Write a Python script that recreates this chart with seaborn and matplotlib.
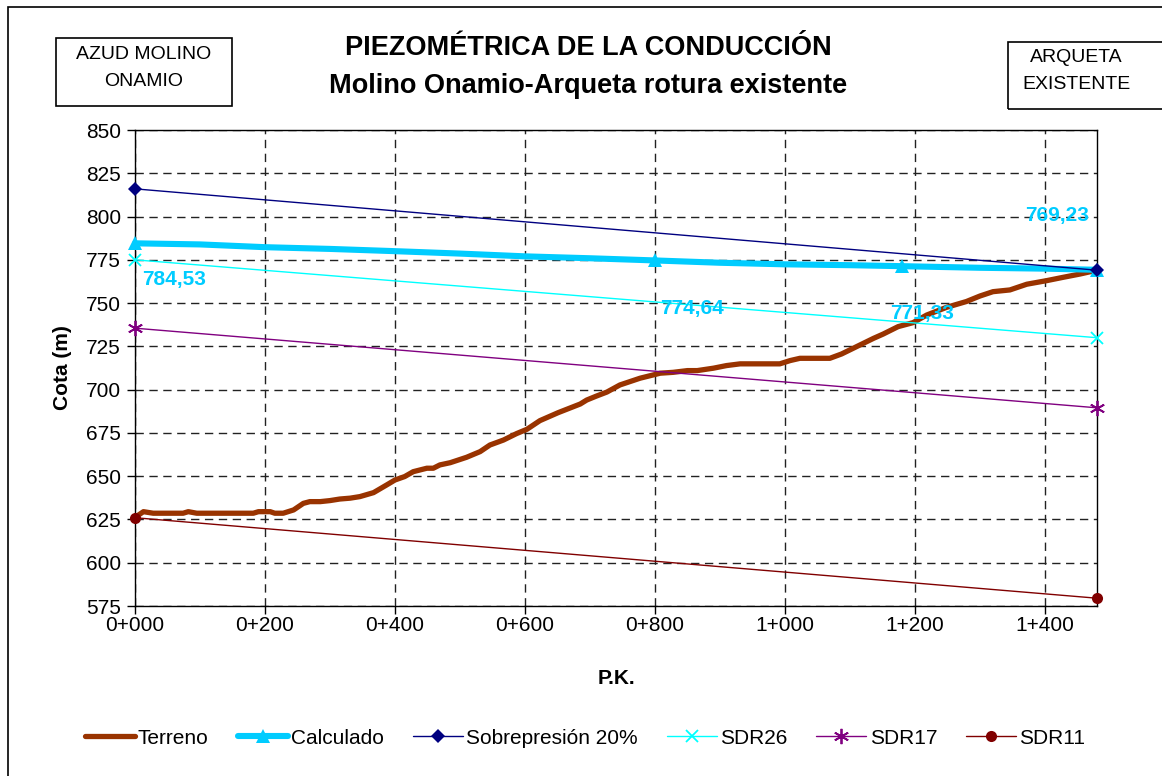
import numpy as np
import pandas as pd
import matplotlib
matplotlib.use("Agg")
import matplotlib.pyplot as plt
from matplotlib.patches import Rectangle
from matplotlib.ticker import FuncFormatter, MultipleLocator
import seaborn as sns

# ---------------- data ----------------
terreno_pk = [0, 13, 28, 74, 82, 95, 182, 190, 208, 215,
              228, 244, 259, 269, 285, 300, 315, 331, 346, 367,
              387, 400, 415, 428, 449, 459, 469, 485, 510, 531,
              546, 567, 587, 603, 623, 651, 685, 695, 710, 726,
              746, 777, 808, 828, 850, 865, 890, 910, 931, 992,
              1008, 1023, 1069, 1087, 1105, 1136, 1151, 1174, 1197, 1218,
              1249, 1279, 1300, 1320, 1346, 1372, 1403, 1428, 1454, 1480]
terreno_cota = [626.2, 629.5, 628.6, 628.6, 629.5, 628.6, 628.6, 629.5, 629.5, 628.6,
                628.6, 630.5, 634.3, 635.3, 635.3, 635.9, 636.8, 637.3, 638.2, 640.5,
                644.9, 647.8, 649.8, 652.6, 654.6, 654.6, 656.5, 657.8, 660.9, 664.2,
                668.0, 670.9, 674.6, 677.1, 682.1, 686.7, 691.7, 694.0, 696.3, 698.6,
                702.7, 706.6, 709.5, 710.0, 711.0, 711.0, 712.4, 713.9, 714.9, 714.9,
                716.8, 718.1, 718.1, 720.6, 723.9, 729.6, 732.1, 736.4, 738.7, 743.1,
                747.6, 750.9, 754.1, 756.6, 757.6, 760.9, 763.0, 764.9, 766.8, 769.0]

calc_pk = [0, 100, 200, 300, 400, 500, 600, 700, 800, 900, 1000, 1100, 1180, 1300, 1400, 1480]
calc_cota = [784.53, 783.9, 782.3, 781.3, 780.0, 778.6, 777.0, 775.9, 774.64, 773.3,
             772.4, 771.9, 771.33, 770.4, 769.9, 769.23]
calc_label_idx = [0, 8, 12, 15]

ends_pk = [0, 1480]
sobrepresion = [816.0, 769.0]
sdr26 = [775.0, 730.0]
sdr17 = [735.5, 689.5]
sdr11 = [626.0, 579.5]

title = "PIEZOMÉTRICA DE LA CONDUCCIÓN\nMolino Onamio-Arqueta rotura existente"
box_left = "AZUD MOLINO\nONAMIO"
box_right = "ARQUETA\nEXISTENTE"

# ---------------- style ----------------
sns.set_theme(style="white")
plt.rcParams["font.family"] = ["Liberation Sans", "DejaVu Sans"]
plt.rcParams["text.color"] = "black"
plt.rcParams["axes.labelcolor"] = "black"
plt.rcParams["xtick.color"] = "black"
plt.rcParams["ytick.color"] = "black"

W, H = 1162, 776
fig = plt.figure(figsize=(W / 100, H / 100), dpi=100)
fig.patch.set_facecolor("white")
ax = fig.add_axes([135 / W, 1 - 606 / H, (1097 - 135) / W, (606 - 130) / H])
ax.set_facecolor("white")

c_terr = "#993300"
c_calc = "#00CCFF"
c_sob = "#000080"
c_26 = "#00FFFF"
c_17 = "#800080"
c_11 = "#800000"

sns.lineplot(x=terreno_pk, y=terreno_cota, ax=ax, color=c_terr, lw=3.8,
             label="Terreno", sort=False, estimator=None,
             solid_joinstyle="round", solid_capstyle="round", zorder=3, clip_on=False)
sns.lineplot(x=calc_pk, y=calc_cota, ax=ax, color=c_calc, lw=4.4,
             label="Calculado", sort=False, estimator=None,
             marker="^", markersize=10, markeredgewidth=0, markeredgecolor=c_calc,
             markevery=calc_label_idx, zorder=4, clip_on=False)
sns.lineplot(x=ends_pk, y=sobrepresion, ax=ax, color=c_sob, lw=1.0,
             label="Sobrepresión 20%", sort=False, estimator=None,
             marker="D", markersize=7, markeredgewidth=0, markeredgecolor=c_sob,
             zorder=5, clip_on=False)
sns.lineplot(x=ends_pk, y=sdr26, ax=ax, color=c_26, lw=1.0,
             label="SDR26", sort=False, estimator=None,
             marker="x", markersize=9, markeredgewidth=1.3, markeredgecolor=c_26,
             zorder=5, clip_on=False)
sns.lineplot(x=ends_pk, y=sdr17, ax=ax, color=c_17, lw=1.0,
             label="SDR17", sort=False, estimator=None,
             marker=(6, 2, 0), markersize=11, markeredgewidth=1.3, markeredgecolor=c_17,
             zorder=5, clip_on=False)
sns.lineplot(x=ends_pk, y=sdr11, ax=ax, color=c_11, lw=1.0,
             label="SDR11", sort=False, estimator=None,
             marker="o", markersize=8, markeredgewidth=0, markeredgecolor=c_11,
             zorder=5, clip_on=False)

# data labels
offsets = [(39, -36), (37, -48), (20, -47), (-40, 54)]
for i, (dx, dy) in zip(calc_label_idx, offsets):
    ax.annotate(f"{calc_cota[i]:.2f}".replace(".", ","), (calc_pk[i], calc_cota[i]),
                xytext=(dx, dy), textcoords="offset pixels", ha="center", va="center",
                color=c_calc, fontsize=15, fontweight="bold", zorder=6)

# axes
ax.set_xlim(0, 1480)
ax.set_ylim(575, 850)
ax.xaxis.set_major_locator(MultipleLocator(200))
ax.yaxis.set_major_locator(MultipleLocator(25))
ax.xaxis.set_major_formatter(FuncFormatter(lambda v, p: f"{int(v) // 1000}+{int(v) % 1000:03d}"))
ax.tick_params(axis="both", which="major", direction="out", length=6, width=1,
               color="black", labelsize=15, labelcolor="black", pad=4,
               bottom=True, left=True, top=False, right=False)
ax.tick_params(axis="x", pad=1)
ax.grid(True, color="#222222", lw=1.0, linestyle=(0, (6, 4)))
for s in ax.spines.values():
    s.set_color("black")
    s.set_linewidth(1.0)
ax.set_xlabel("P.K.", fontsize=15, fontweight="bold", labelpad=25)
ax.set_ylabel("Cota (m)", fontsize=15, fontweight="bold", labelpad=10)

ax.legend_.remove()
handles, labels = ax.get_legend_handles_labels()
fig.legend(handles, labels, loc="center", bbox_to_anchor=(585 / W, 1 - 738 / H),
           ncol=6, frameon=False, fontsize=15, handlelength=2.4, handletextpad=0.15,
           columnspacing=1.4)

# title
fig.text(588 / W, 1 - 67 / H, title, ha="center", va="center", fontsize=19.5,
         fontweight="bold", linespacing=1.6)

# boxes
fig.patches.append(Rectangle((56 / W, 1 - 106 / H), 176 / W, 68 / H,
                             transform=fig.transFigure, fill=False,
                             edgecolor="black", lw=1.2))
fig.text(144 / W, 1 - 68 / H, box_left, ha="center", va="center",
         fontsize=14, linespacing=1.75)
fig.patches.append(Rectangle((1008 / W, 1 - 109 / H), 200 / W, 67 / H,
                             transform=fig.transFigure, fill=False,
                             edgecolor="black", lw=1.2, clip_on=False))
fig.text(1076 / W, 1 - 71 / H, box_right, ha="center", va="center", fontsize=14,
         linespacing=1.75)

# outer chart border
fig.patches.append(Rectangle((8 / W, -0.05), 1.1, 1 - 7 / H + 0.05,
                             transform=fig.transFigure, fill=False,
                             edgecolor="black", lw=1.2))

fig.savefig("out.png", dpi=100, facecolor="white")
